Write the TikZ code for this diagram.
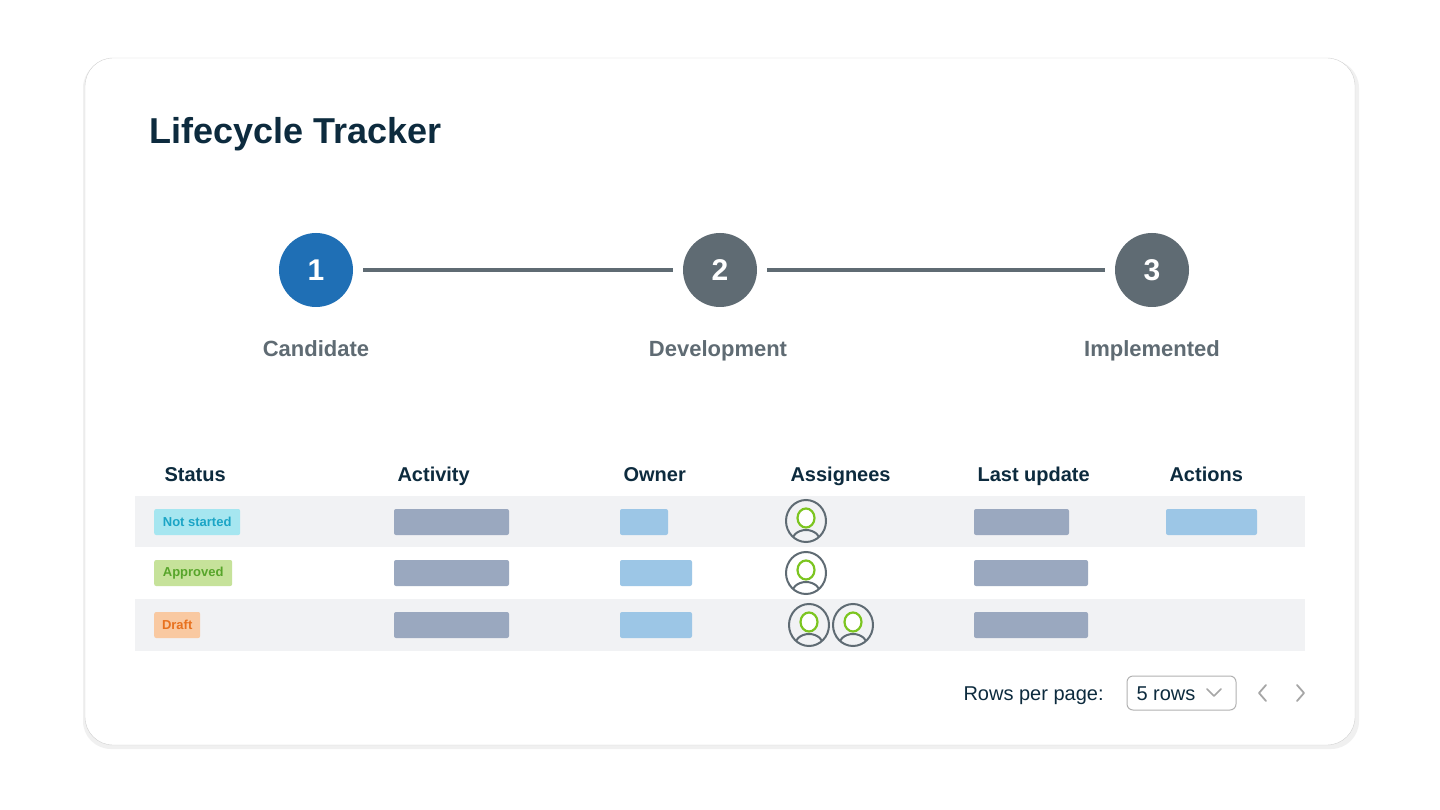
\documentclass[tikz,border=0pt]{standalone}
\usepackage{fontspec}
\setmainfont{Liberation Sans}
\usetikzlibrary{shapes.geometric}
\definecolor{navy}{HTML}{0D2B3E}
\definecolor{stepgray}{HTML}{5F6B73}
\definecolor{stepblue}{HTML}{1F6FB5}
\definecolor{rowgray}{HTML}{F1F2F4}
\definecolor{barblue}{HTML}{9AA8BF}
\definecolor{lightblue}{HTML}{9CC6E6}
\definecolor{avgreen}{HTML}{7CC520}
\definecolor{t1fill}{HTML}{A6E6F0}
\definecolor{t1text}{HTML}{1BA5C6}
\definecolor{t2fill}{HTML}{C6E29A}
\definecolor{t2text}{HTML}{57A52A}
\definecolor{t3fill}{HTML}{F9C9A1}
\definecolor{t3text}{HTML}{E8711E}
\tikzset{
  stepcirc/.style={circle,minimum size=74pt,inner sep=0pt,text=white,font=\fontsize{30}{30}\selectfont\bfseries},
  steplabel/.style={text=stepgray,font=\fontsize{22}{22}\selectfont\bfseries},
  colhead/.style={anchor=base west,text=navy,font=\fontsize{20}{20}\selectfont\bfseries},
  tag/.style={rounded corners=2pt,inner sep=0pt,minimum height=26pt,font=\fontsize{13}{13}\selectfont\bfseries},
  bar/.style={rounded corners=2pt},
  avatar/.style={draw=stepgray,line width=2pt,fill=none}
}
\newcommand{\avat}[3]{%
  \node[avatar,ellipse,minimum width=40pt,minimum height=42pt,inner sep=0pt] (#3) at (#1,#2) {};
  \begin{scope}
    \clip (#1,#2) ellipse (20pt and 21pt);
    \draw[stepgray,line width=2pt] ({#1},{#2+22}) ellipse (15pt and 13pt);
  \end{scope}
  \draw[avgreen,line width=2.2pt,fill=white] ({#1},{#2-3}) ellipse (8.5pt and 9.5pt);
}
\begin{document}
\begin{tikzpicture}[x=1pt,y=-1pt]
\useasboundingbox (0,0) rectangle (1440,810);
\fill[white] (0,0) rectangle (1440,810);
\fill[black!6,rounded corners=28pt] (83,60) rectangle (1359,749);
\draw[black!18,fill=white,rounded corners=28pt] (85,58) rectangle (1355,745);
\node[anchor=base west,text=navy,font=\fontsize{36}{36}\selectfont\bfseries] (title) at (146,144) {Lifecycle Tracker};
% steps
\node[stepcirc,fill=stepblue] (s1) at (316,270) {1};
\node[stepcirc,fill=stepgray] (s2) at (720,270) {2};
\node[stepcirc,fill=stepgray] (s3) at (1152,270) {3};
\draw[stepgray,line width=4pt] ([xshift=10pt]s1.east) -- ([xshift=-10pt]s2.west);
\draw[stepgray,line width=4pt] ([xshift=10pt]s2.east) -- ([xshift=-10pt]s3.west);
\node[steplabel,anchor=base] (l1) at (316,356) {Candidate};
\node[steplabel,anchor=base] (l2) at (718,356) {Development};
\node[steplabel,anchor=base] (l3) at (1152,356) {Implemented};
% headers
\node[colhead] (h1) at (161,481) {Status};
\node[colhead] (h2) at (394,481) {Activity};
\node[colhead] (h3) at (620,481) {Owner};
\node[colhead] (h4) at (787,481) {Assignees};
\node[colhead] (h5) at (974,481) {Last update};
\node[colhead] (h6) at (1166,481) {Actions};
% rows
\fill[rowgray] (135,496) rectangle (1305,547);
\fill[rowgray] (135,599) rectangle (1305,651);
% tags
\node[tag,anchor=west,fill=t1fill,text=t1text,minimum width=86pt] (t1) at (154,522) {Not started};
\node[tag,anchor=west,fill=t2fill,text=t2text,minimum width=78pt] (t2) at (154,573) {Approved};
\node[tag,anchor=west,fill=t3fill,text=t3text,minimum width=46pt] (t3) at (154,625) {Draft};
% bars
\foreach \y in {509,560,612}{\fill[bar,barblue] (394,\y) rectangle (509,{\y+26});}
\fill[bar,lightblue] (620,509) rectangle (668,535);
\fill[bar,lightblue] (620,560) rectangle (692,586);
\fill[bar,lightblue] (620,612) rectangle (692,638);
\fill[bar,barblue] (974,509) rectangle (1069,535);
\fill[bar,barblue] (974,560) rectangle (1088,586);
\fill[bar,barblue] (974,612) rectangle (1088,638);
\fill[bar,lightblue] (1166,509) rectangle (1257,535);
% avatars
\avat{806}{521}{av1}
\avat{806}{573}{av2}
\avat{809}{625}{av3}
\avat{853}{625}{av4}
% pagination
\node[anchor=base west,text=navy,font=\fontsize{20}{20}\selectfont] (rpp) at (960,700) {Rows per page:};
\draw[black!30,rounded corners=6pt,line width=1pt] (1127,676) rectangle (1236,710);
\node[anchor=base west,text=navy,font=\fontsize{20}{20}\selectfont] (rows) at (1133,700) {5 rows};
\draw[black!35,line width=1.6pt,line cap=round,line join=round] (1207,689) -- (1214,696) -- (1221,689);
\draw[black!35,line width=1.8pt,line cap=round,line join=round] (1266,685) -- (1259,693) -- (1266,701);
\draw[black!35,line width=1.8pt,line cap=round,line join=round] (1297,685) -- (1304,693) -- (1297,701);
\end{tikzpicture}
\end{document}
